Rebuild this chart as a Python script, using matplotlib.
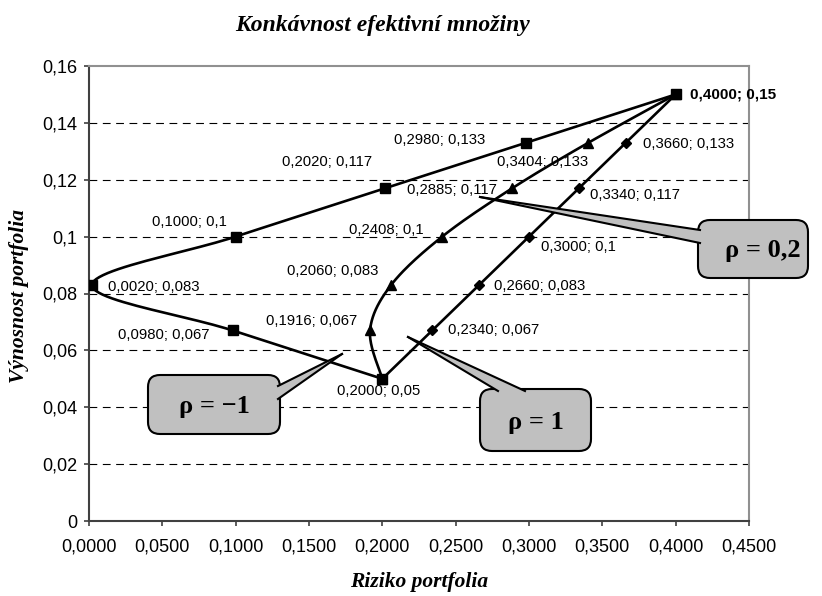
import numpy as np
import matplotlib
matplotlib.use("Agg")
import matplotlib.pyplot as plt
from matplotlib.patches import FancyBboxPatch, Polygon
from matplotlib.lines import Line2D
from matplotlib.transforms import IdentityTransform

# data: (riziko, vynosnost) for three correlation coefficients
risk_neg = [0.4000, 0.2980, 0.2020, 0.1000, 0.0020, 0.0980, 0.2000]
ret_neg = [0.15, 0.133, 0.117, 0.1, 0.083, 0.067, 0.05]

risk_mid = [0.4000, 0.3404, 0.2885, 0.2408, 0.2060, 0.1916, 0.2000]
ret_mid = [0.15, 0.133, 0.117, 0.1, 0.083, 0.067, 0.05]

risk_pos = [0.4000, 0.3660, 0.3340, 0.3000, 0.2660, 0.2340, 0.2000]
ret_pos = [0.15, 0.133, 0.117, 0.1, 0.083, 0.067, 0.05]

x_ticks = [0.0, 0.05, 0.10, 0.15, 0.20, 0.25, 0.30, 0.35, 0.40, 0.45]
y_ticks = [0.0, 0.02, 0.04, 0.06, 0.08, 0.10, 0.12, 0.14, 0.16]

# label offsets in pixels (dx, dy, ha); None = no label
offs_neg = [(14, 0, "left"), (-41, 3, "right"), (-13, 26, "right"), (-9, 15, "right"),
            (16, -2, "left"), (-23, -5, "right"), (-4, -12, "center")]
offs_mid = [None, (0, -19, "right"), (-15, -2, "right"), (-19, 7, "right"),
            (-13, 14, "right"), (-13, 9, "right"), None]
offs_pos = [None, (17, -1, "left"), (11, -7, "left"), (12, -10, "left"),
            (15, -1, "left"), (16, 0, "left"), None]

W, H = 822, 596


def smooth(xs, ys, n=25):
    """Excel-like smoothed line (Catmull-Rom as cubic Bezier)."""
    P = np.column_stack([xs, ys]).astype(float)
    Pe = np.vstack([P[0], P, P[-1]])
    t = np.linspace(0, 1, n)[:, None]
    out = []
    for i in range(1, len(Pe) - 2):
        p0, p1, p2, p3 = Pe[i - 1:i + 3]
        c1 = p1 + (p2 - p0) / 6.0
        c2 = p2 - (p3 - p1) / 6.0
        seg = (1 - t) ** 3 * p1 + 3 * (1 - t) ** 2 * t * c1 + 3 * (1 - t) * t ** 2 * c2 + t ** 3 * p2
        out.append(seg if i == 1 else seg[1:])
    return np.vstack(out)


def fmt_label(x, y):
    return f"{x:.4f}".replace(".", ",") + "; " + f"{y:g}".replace(".", ",")


def callout(fig, box, base, tip, text, tx=None):
    """Grey rounded callout; coordinates in image pixels (origin top-left)."""
    x0, y0, x1, y1 = box
    tr = IdentityTransform()
    r = 12
    patch = FancyBboxPatch((x0 + r, H - y1 + r), (x1 - x0) - 2 * r, (y1 - y0) - 2 * r,
                           boxstyle=f"round,pad={r},rounding_size={r}",
                           transform=tr, facecolor="#c0c0c0", edgecolor="black",
                           linewidth=1.5, zorder=10)
    fig.add_artist(patch)
    (bx0, by0), (bx1, by1) = base
    wedge = Polygon([(bx0, H - by0), (tip[0], H - tip[1]), (bx1, H - by1)], closed=True,
                    transform=tr, facecolor="#c0c0c0", edgecolor="none", zorder=11)
    fig.add_artist(wedge)
    for bx, by in base:
        fig.add_artist(Line2D([bx, tip[0]], [H - by, H - tip[1]], transform=tr,
                              color="black", linewidth=1.5, zorder=12))
    cx = (x0 + x1) / 2 if tx is None else tx
    fig.text(cx / W, 1 - ((y0 + y1) / 2 + 2) / H, text,
             family="Liberation Serif", weight="bold", fontsize=19,
             ha="center", va="center", zorder=13)


fig = plt.figure(figsize=(W / 100, H / 100), dpi=100)
ax = fig.add_axes([89 / W, 1 - 521 / H, 660 / W, 455 / H])

ax.set_xlim(0, 0.45)
ax.set_ylim(0, 0.16)

for yv in y_ticks[1:-1]:
    ax.axhline(yv, color="black", linewidth=0.8, linestyle=(0, (7, 5)), zorder=1)

series = [
    (risk_neg, ret_neg, "s", 6.5, offs_neg),
    (risk_mid, ret_mid, "^", 7.5, offs_mid),
    (risk_pos, ret_pos, "D", 5.5, offs_pos),
]
for xs, ys, mk, ms, offs in series:
    curve = smooth(xs, ys)
    ax.plot(curve[:, 0], curve[:, 1], color="black", linewidth=1.9, zorder=3,
            solid_capstyle="round")
    ax.plot(xs, ys, linestyle="none", marker=mk, markersize=ms, color="black", zorder=4)
    for x, y, off in zip(xs, ys, offs):
        if off is None:
            continue
        dx, dy, ha = off
        bold = (x == 0.4 and y == 0.15)
        ax.annotate(fmt_label(x, y), (x, y), xytext=(dx, dy), textcoords="offset pixels",
                    ha=ha, va="center", fontsize=10.7 if not bold else 11,
                    family="Liberation Sans", weight="bold" if bold else "normal",
                    annotation_clip=False, zorder=5)

ax.set_xticks(x_ticks)
ax.set_xticklabels([f"{v:.4f}".replace(".", ",") for v in x_ticks])
ax.set_yticks(y_ticks)
ax.set_yticklabels(["0" if v == 0 else f"{v:g}".replace(".", ",") for v in y_ticks])
ax.tick_params(axis="both", labelsize=13, colors="#404040", labelcolor="black",
               length=3.5, width=1.2, direction="out")
ax.tick_params(axis="x", pad=9)
ax.tick_params(axis="y", pad=5)
for lab in ax.get_xticklabels() + ax.get_yticklabels():
    lab.set_family("Liberation Sans")

for side in ("left", "bottom"):
    ax.spines[side].set_color("#404040")
    ax.spines[side].set_linewidth(1.5)
for side in ("top", "right"):
    ax.spines[side].set_color("#909090")
    ax.spines[side].set_linewidth(1.5)

fig.text(383 / W, 1 - 26 / H, "Konkávnost efektivní množiny", family="Liberation Serif",
         weight="bold", style="italic", fontsize=17, ha="center", va="center")
fig.text(419 / W, 1 - 582 / H, "Riziko portfolia", family="Liberation Serif",
         weight="bold", style="italic", fontsize=15.5, ha="center", va="center")
fig.text(19 / W, 1 - 296 / H, "Výnosnost portfolia", family="Liberation Serif",
         weight="bold", style="italic", fontsize=15.5, ha="center", va="center",
         rotation=90)

callout(fig, (698, 220, 808, 278), [(700, 230), (700, 243)], (480, 197), "ρ = 0,2", tx=763)
callout(fig, (148, 375, 280, 434), [(278, 386), (278, 399)], (342, 354), "ρ = −1")
callout(fig, (480, 389, 591, 451), [(498, 391), (525, 391)], (408, 337), "ρ = 1")

fig.savefig("out.png", dpi=100, facecolor="white")
